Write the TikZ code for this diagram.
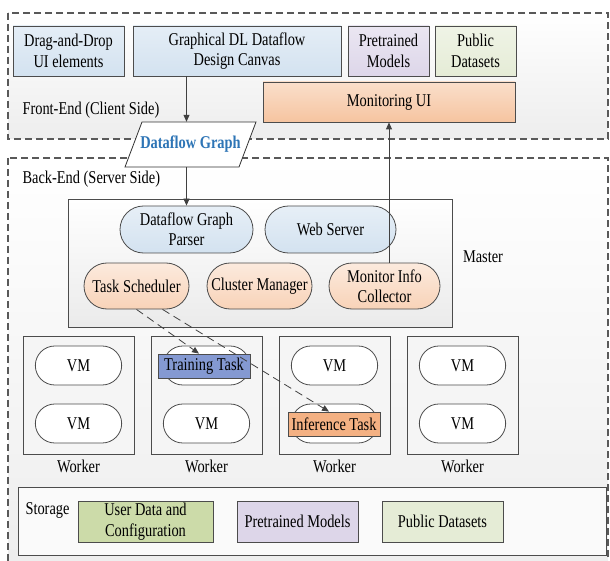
\documentclass[tikz,border=0pt]{standalone}
\usepackage{fontspec}
\setmainfont{Liberation Serif}[FakeStretch=0.8]
\usepackage{xcolor}
\usetikzlibrary{shapes.misc,arrows.meta}
\definecolor{uiblue}{HTML}{D3E2F0}
\definecolor{mdlpur}{HTML}{DDD6E9}
\definecolor{dsgrn}{HTML}{E5ECD6}
\definecolor{monorg}{HTML}{F6C4A0}
\definecolor{trnblue}{HTML}{8499D2}
\definecolor{infrorg}{HTML}{F4B183}
\definecolor{usrgrn}{HTML}{CCDBA9}
\definecolor{flowtxt}{HTML}{2E75B6}

\begin{document}
\begin{tikzpicture}[x=1pt,y=-1pt,font=\fontsize{18}{20.5}\selectfont,
  zone/.style={draw=black!65, line width=1.1pt, dash pattern=on 7pt off 4pt, top color=white, bottom color=black!7},
  ubox/.style={draw=black!70, thick, align=center, inner sep=1pt},
  pill/.style={rounded rectangle, draw=black!70, thick, align=center, inner sep=1pt, minimum height=47pt},
  vm/.style={rounded rectangle, draw=black!70, thick, fill=white, minimum width=93pt, minimum height=39pt},
  task/.style={draw=black!70, thick, minimum width=92pt, minimum height=24pt, inner sep=0pt},
  flow/.style={draw=black!75, thick, -{Triangle[length=7pt,width=6pt]}}]
  \useasboundingbox (0,0) rectangle (610,561);
  \def\wdx{128}\def\wx{78.5}

  % front-end zone
  \draw[zone] (8,13) rectangle (608,139);
  \node[ubox, minimum width=111pt, minimum height=50pt, top color=uiblue!60, bottom color=uiblue] (dnd) at (68.5,51) {Drag-and-Drop\\UI elements};
  \node[ubox, minimum width=208pt, minimum height=50pt, top color=uiblue!60, bottom color=uiblue] (canvas) at (237,51) {Graphical DL Dataflow\\Design Canvas};
  \node[ubox, minimum width=81pt, minimum height=50pt, top color=mdlpur!60, bottom color=mdlpur] (ptm) at (388.5,51) {Pretrained\\Models};
  \node[ubox, minimum width=81pt, minimum height=50pt, top color=dsgrn!60, bottom color=dsgrn] (pds) at (475.5,51) {Public\\Datasets};
  \node[ubox, minimum width=252pt, minimum height=40pt, top color=monorg!55, bottom color=monorg] (mon) at (389,102) {Monitoring UI};
  \node[anchor=west] (felbl) at (19,110) {Front-End (Client Side)};

  % back-end zone
  \draw[zone] (8,158) rectangle (608,580);
  \node[anchor=west] (belbl) at (19,179) {Back-End (Server Side)};

  % dataflow graph handed over (slanted box)
  \draw[draw=black!80, thick, fill=white] (125,167) -- (239,167) -- (256,122) -- (142,122) -- cycle;
  \node[minimum width=114pt, minimum height=45pt, inner sep=0pt, text=flowtxt,
    font=\fontsize{18}{20.5}\selectfont\bfseries] (dfg) at (190.5,144.5) {Dataflow Graph};

  % master
  \node[draw=black!70, thick, top color=white, bottom color=black!8, minimum width=384pt, minimum height=128pt] (master) at (260,263) {};
  \node (mlbl) at (483,257) {Master};
  \node[pill, minimum width=135pt, top color=uiblue!55, bottom color=uiblue] (parser) at (186.5,229.5) {Dataflow Graph\\Parser};
  \node[pill, minimum width=133pt, top color=uiblue!55, bottom color=uiblue] (websrv) at (330.5,229.5) {Web Server};
  \node[pill, minimum width=107pt, minimum height=46pt, top color=monorg!35, bottom color=monorg!75] (sched) at (136.5,286) {Task Scheduler};
  \node[pill, minimum width=107pt, minimum height=46pt, top color=monorg!35, bottom color=monorg!75] (clmgr) at (259.5,286) {Cluster Manager};
  \node[pill, minimum width=113pt, minimum height=46pt, top color=monorg!35, bottom color=monorg!75] (mic) at (384.5,286) {Monitor Info\\Collector};

  % workers
  \foreach \i/\ta/\tb in {1/VM/VM,2//VM,3/VM/,4/VM/VM} {
    \pgfmathsetmacro\cx{\wx+(\i-1)*\wdx}
    \node[draw=black!70, thick, fill=black!4, minimum width=111pt, minimum height=118pt] (w\i) at (\cx,395) {};
    \node (wl\i) at (\cx,466) {Worker};
    \node[vm] (vma\i) at (\cx,365.5) {\ta};
    \node[vm] (vmb\i) at (\cx,423.5) {\tb};
  }
  \node[task, fill=trnblue] (train) at (204,366) {Training Task};
  \node[task, fill=infrorg] (infer) at (334,424) {Inference Task};

  % storage
  \node[draw=black!70, thick, fill=black!2, minimum width=588pt, minimum height=68pt] (store) at (312,521) {};
  \node[anchor=west] (slbl) at (22,510) {Storage};
  \node[ubox, minimum width=135pt, minimum height=41pt, fill=usrgrn] (udc) at (145.5,521.5) {User Data and\\Configuration};
  \node[ubox, minimum width=121pt, minimum height=41pt, fill=mdlpur] (spm) at (297.5,521.5) {Pretrained Models};
  \node[ubox, minimum width=121pt, minimum height=41pt, fill=dsgrn] (spd) at (442.5,521.5) {Public Datasets};

  % connectors
  \draw[flow] (canvas.south -| parser) -- (dfg.north -| parser);
  \draw[flow] (dfg.south -| parser) -- (parser.north);
  \draw[flow] (mic.north -| mon) -- (mon.south);
  \draw[flow, dash pattern=on 8pt off 5pt] (sched.south) -- ([xshift=-5pt]train.north);
  \draw[flow, dash pattern=on 8pt off 5pt] ([xshift=26pt]sched.south) -- ([xshift=-5pt]infer.north);
\end{tikzpicture}
\end{document}
